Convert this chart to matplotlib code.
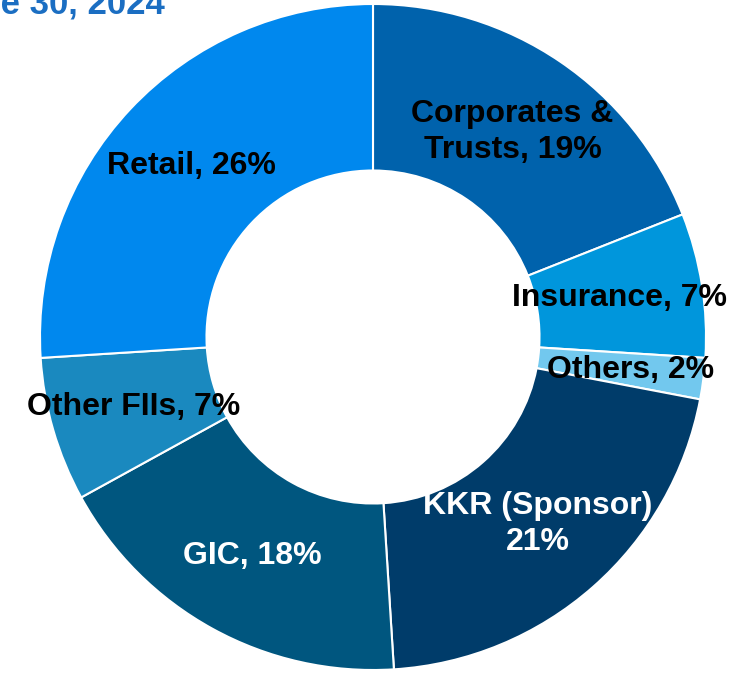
import numpy as np
import matplotlib.pyplot as plt

plt.rcParams['font.family'] = ['Liberation Sans', 'DejaVu Sans']

# shareholding split, clockwise from 12 o'clock
labels = ['Corporates &\nTrusts, 19%', 'Insurance, 7%', 'Others, 2%',
          'KKR (Sponsor)\n21%', 'GIC, 18%', 'Other FIIs, 7%', 'Retail, 26%']
shares = [19, 7, 2, 21, 18, 7, 26]
colors = ['#0062AC', '#0096DC', '#72C8EE', '#003C6A', '#00567F', '#1A89BF', '#0088EE']
text_colors = ['black', 'black', 'black', 'white', 'white', 'black', 'black']
label_r = [0.745, 0.75, 0.78, 0.75, 0.75, 0.75, 0.75]

title = 'Shareholding Pattern as on June 30, 2024'

fig = plt.figure(figsize=(7.41, 6.73), dpi=100)
ax = fig.add_axes([40 / 741, 3 / 673, 666 / 741, 666 / 673])

wedges, _ = ax.pie(shares, colors=colors, startangle=90, counterclock=False,
                   radius=1.0, wedgeprops=dict(width=0.5, edgecolor='white', linewidth=1.5))

for w, lab, tc, r in zip(wedges, labels, text_colors, label_r):
    ang = np.deg2rad((w.theta1 + w.theta2) / 2)
    ax.text(r * np.cos(ang), r * np.sin(ang), lab, ha='center', va='center',
            fontsize=23, fontweight='bold', color=tc, linespacing=1.25)

ax.set_xlim(-1, 1)
ax.set_ylim(-1, 1)
ax.set_aspect('equal')
ax.axis('off')

fig.text(165 / 741, 1 - 14 / 673, title, ha='right', va='baseline',
         fontsize=25, fontweight='bold', color='#1B6EC2')

fig.savefig('out.png', dpi=100)
